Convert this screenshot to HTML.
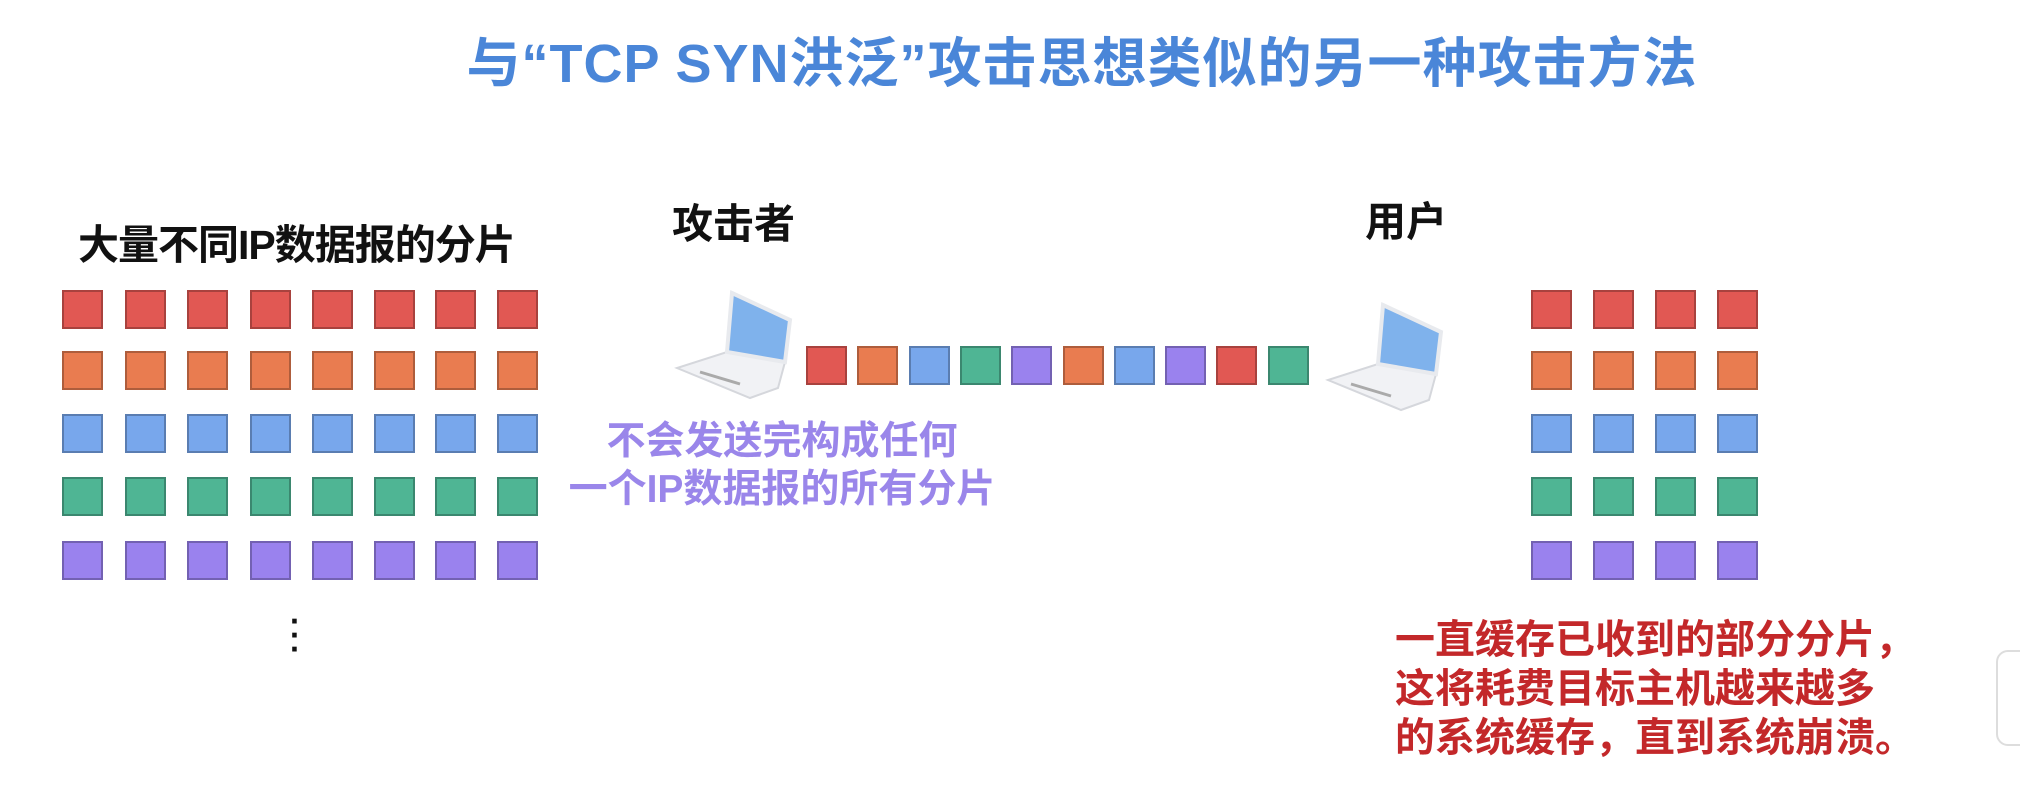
<!DOCTYPE html>
<html><head><meta charset="utf-8"><style>
body{margin:0;width:2020px;height:808px;background:#fff;position:relative;overflow:hidden;font-family:"Liberation Sans","Noto Sans CJK SC",sans-serif;}
.t{position:absolute;font-weight:bold;white-space:nowrap;}
.sq{position:absolute;width:41px;height:39px;box-sizing:border-box;border:2px solid rgba(0,0,0,0.25);}
.r{background:#e15853}.o{background:#e97c50}.b{background:#78a7ec}.g{background:#4fb594}.p{background:#9a82ee}
</style></head><body>
<div class="t" style="left:380px;top:32px;width:1404px;text-align:center;font-size:54px;color:#4a86d8;line-height:64px;letter-spacing:1px;">与“TCP SYN洪泛”攻击思想类似的另一种攻击方法</div>
<div class="t" style="left:78px;top:219px;font-size:41px;color:#111;line-height:52px;letter-spacing:-1px;">大量不同IP数据报的分片</div>
<div class="t" style="left:672px;top:198px;font-size:41px;color:#111;line-height:52px;">攻击者</div>
<div class="t" style="left:1365px;top:196px;font-size:41px;color:#111;line-height:52px;">用户</div>
<div class="t" style="left:482px;top:418px;width:600px;text-align:center;font-size:39px;color:#9a86ea;line-height:48px;">不会发送完构成任何<br>一个IP数据报的所有分片</div>
<div class="t" style="left:1395px;top:616px;font-size:40px;color:#c3282a;line-height:49px;">一直缓存已收到的部分分片，<br>这将耗费目标主机越来越多<br>的系统缓存，直到系统崩溃。</div>
<div class="t" style="left:290px;top:614px;font-size:32px;color:#111;line-height:14px;">·<br>·<br>·</div>
<div id="grids"></div>
<svg style="position:absolute;left:660px;top:280px" width="140" height="120"><polygon points="67,72 125,82 118,108 90,118 17,88" fill="#f1f2f5" stroke="#d5d7dc" stroke-width="2"/><polygon points="72,13 130,40 125,82 67,72" fill="#7fb2ec" stroke="#e8eaee" stroke-width="4"/><line x1="40" y1="92" x2="80" y2="104" stroke="#aaa" stroke-width="3"/></svg>
<svg style="position:absolute;left:1311px;top:292px" width="140" height="120"><polygon points="67,72 125,82 118,108 90,118 17,88" fill="#f1f2f5" stroke="#d5d7dc" stroke-width="2"/><polygon points="72,13 130,40 125,82 67,72" fill="#7fb2ec" stroke="#e8eaee" stroke-width="4"/><line x1="40" y1="92" x2="80" y2="104" stroke="#aaa" stroke-width="3"/></svg>
<div style="position:absolute;left:1996px;top:650px;width:40px;height:92px;border:2px solid #ddd;border-radius:12px;"></div>
<script>
var h='',rows=['r','o','b','g','p'],ys=[290,351,414,477,541];
var lx=[62,125,187,250,312,374,435,497],rx=[1531,1593,1655,1717];
rows.forEach(function(c,i){lx.forEach(function(x){h+='<div class="sq '+c+'" style="left:'+x+'px;top:'+ys[i]+'px"></div>';});rx.forEach(function(x){h+='<div class="sq '+c+'" style="left:'+x+'px;top:'+ys[i]+'px"></div>';});});
var mid=['r','o','b','g','p','o','b','p','r','g'];
mid.forEach(function(c,i){h+='<div class="sq '+c+'" style="left:'+(806+i*51.3)+'px;top:346px"></div>';});
document.getElementById('grids').innerHTML=h;
</script>
</body></html>
